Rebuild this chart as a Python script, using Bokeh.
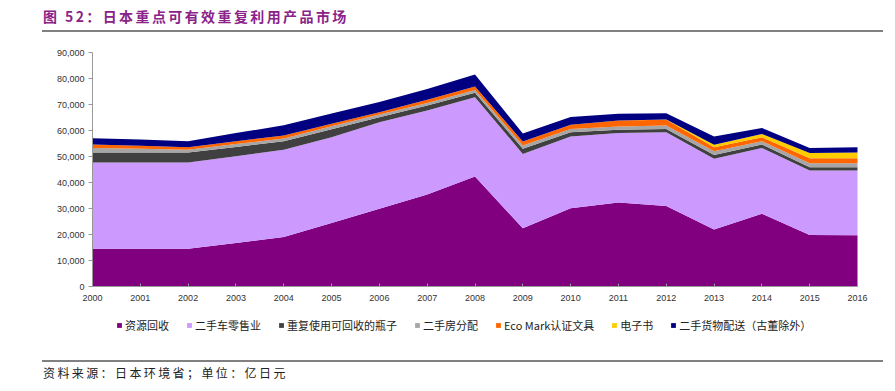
from bokeh.plotting import figure
from bokeh.models import (ColumnDataSource, Legend, LegendItem, Div, FixedTicker,
                          SingleIntervalTicker, NumeralTickFormatter, Range1d)
from bokeh.layouts import column
from bokeh.embed import file_html
from bokeh.resources import INLINE

years = [2000, 2001, 2002, 2003, 2004, 2005, 2006, 2007, 2008,
         2009, 2010, 2011, 2012, 2013, 2014, 2015, 2016]

resource_recovery = [14500, 14500, 14500, 16700, 19000, 24400, 29900, 35400, 42300,
                     22400, 30100, 32300, 31000, 21900, 28000, 19800, 19700]
used_car = [33200, 33200, 33200, 33400, 33600, 33000, 33300, 32300, 30500,
            28600, 27600, 26700, 28300, 27200, 25300, 24800, 24900]
bottles = [3800, 3800, 3800, 3600, 3300, 3100, 1900, 1900, 1700,
           2000, 1600, 1300, 1300, 1500, 1300, 1300, 1300]
housing = [1800, 1500, 1100, 1100, 1000, 1100, 1100, 1000, 1100,
           1200, 1300, 1200, 1300, 1400, 1300, 1500, 1500]
ecomark = [1300, 1100, 1000, 1100, 1200, 1000, 800, 1200, 1300,
           1600, 1600, 2300, 2200, 1600, 1500, 1900, 1900]
ebooks = [0, 0, 0, 0, 0, 0, 0, 0, 0,
          0, 0, 0, 100, 900, 1300, 2000, 2200]
secondhand_goods = [2400, 2400, 2300, 3100, 3900, 3900, 4000, 4200, 4600,
                    3000, 3000, 2600, 2400, 3200, 2300, 2000, 2100]

series_keys = ["resource_recovery", "used_car", "bottles", "housing",
               "ecomark", "ebooks", "secondhand_goods"]
series_labels = ["资源回收", "二手车零售业", "重复使用可回收的瓶子", "二手房分配",
                 "Eco Mark认证文具", "电子书", "二手货物配送（古董除外）"]
series_colors = ["#800080", "#CC99FF", "#404040", "#A6A6A6",
                 "#FF6600", "#FFCC00", "#000080"]

title_text = "图 52：日本重点可有效重复利用产品市场"
source_text = "资料来源：日本环境省；单位：亿日元"

source = ColumnDataSource(dict(
    year=years,
    resource_recovery=resource_recovery,
    used_car=used_car,
    bottles=bottles,
    housing=housing,
    ecomark=ecomark,
    ebooks=ebooks,
    secondhand_goods=secondhand_goods,
))

# Figure occupies page x 8..887, y 36..356; the plotted box spans
# page x 92..857 (2000..2016) and page y 286..52 (0..90,000).
FIG_W, FIG_H = 879, 320
x0, x1 = min(years), max(years)
y_top = 90000
px_per_year = (857 - 92) / (x1 - x0)
px_per_val = (286 - 52) / y_top
x_start = x0 - (92 - 8) / px_per_year
x_end = x1 + (887 - 857) / px_per_year
y_end = y_top + (52 - 36) / px_per_val
y_start = -(356 - 286) / px_per_val

p = figure(width=FIG_W, height=FIG_H, output_backend="svg", toolbar_location=None,
           x_range=Range1d(x_start, x_end), y_range=Range1d(y_start, y_end),
           min_border=0, margin=0)
p.outline_line_color = None
p.xgrid.visible = False
p.ygrid.visible = False

renderers = p.varea_stack(stackers=series_keys, x="year", color=series_colors,
                          source=source)

items = [LegendItem(label=lab, renderers=[r]) for lab, r in zip(series_labels, renderers)]
legend = Legend(items=items, orientation="horizontal", location=(108, 23),
                padding=0, margin=0, spacing=17, glyph_width=6, glyph_height=6,
                label_standoff=3, label_height=10, label_width=10,
                label_text_font="Noto Sans CJK SC", label_text_font_size="11px",
                label_text_color="#222222", background_fill_alpha=0,
                border_line_alpha=0)
p.add_layout(legend, "center")

for ax in (p.xaxis[0], p.yaxis[0]):
    ax.axis_line_color = "#999999"
    ax.major_tick_line_color = "#999999"
    ax.minor_tick_line_color = None
    ax.major_label_text_font = "Liberation Sans"
    ax.major_label_text_font_size = "9px"
    ax.major_label_text_color = "#333333"

p.xaxis.fixed_location = 0
p.xaxis.bounds = (x0, x1)
p.xaxis.ticker = FixedTicker(ticks=years)
p.xaxis.major_tick_in = 3
p.xaxis.major_tick_out = 0
p.xaxis.major_label_standoff = 8

p.yaxis.fixed_location = x0
p.yaxis.bounds = (0, y_top)
p.yaxis.ticker = SingleIntervalTicker(interval=10000)
p.yaxis.formatter = NumeralTickFormatter(format="0,0")
p.yaxis.major_tick_in = 0
p.yaxis.major_tick_out = 4
p.yaxis.major_label_standoff = 4

title_div = Div(width=879, height=28, margin=0, text=(
    '<div style="position:relative;width:879px;height:28px;">'
    '<div style="position:absolute;left:35px;top:0px;line-height:16px;'
    'font-family:\'Noto Sans CJK SC\';font-weight:bold;font-size:14px;'
    'letter-spacing:2.4px;color:#8A2289;white-space:nowrap;">' + title_text + '</div>'
    '<div style="position:absolute;left:34px;right:4px;top:22px;height:0;'
    'border-top:2px solid #808080;"></div></div>'))

foot_div = Div(width=879, height=27, margin=0, text=(
    '<div style="position:relative;width:879px;height:27px;">'
    '<div style="position:absolute;left:34px;right:4px;top:4px;height:0;'
    'border-top:2px solid #808080;"></div>'
    '<div style="position:absolute;left:35px;top:9px;line-height:15px;'
    'font-family:\'Noto Sans CJK SC\';font-size:12px;letter-spacing:2.4px;'
    'color:#222222;white-space:nowrap;">' + source_text + '</div></div>'))

layout = column(title_div, p, foot_div, spacing=0, margin=(8, 0, 0, 8))

open("out.html", "w").write(file_html(layout, INLINE))
